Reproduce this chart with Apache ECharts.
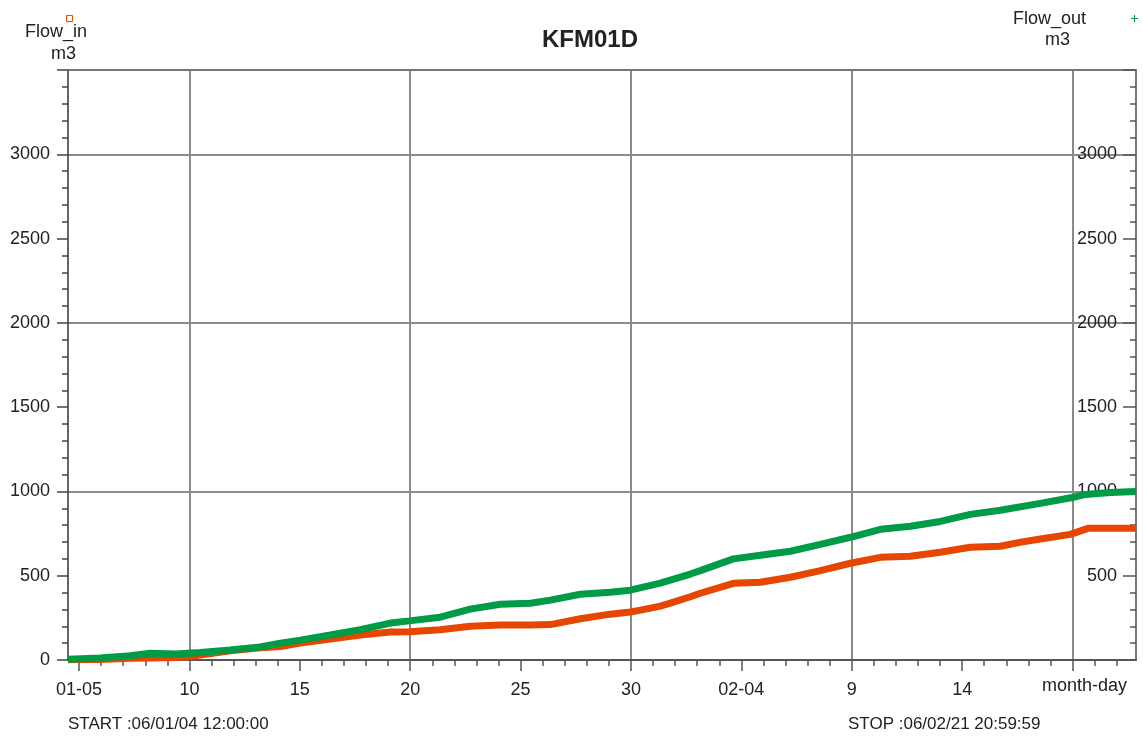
<!DOCTYPE html>
<html>
<head>
<meta charset="utf-8">
<script src="https://cdn.jsdelivr.net/npm/echarts@6/dist/echarts.min.js"></script>
<style>html,body{margin:0;padding:0;background:#fff}#c{width:1143px;height:736px}</style>
</head>
<body>
<div id="c"></div>
<script>
// x values: day of year 2006 (1.0 = 01-01 00:00)
var xMin = 3.5;        // 06/01/04 12:00:00
var xMax = 51.875;     // 06/02/21 20:59:59
var gridDays = [9, 19, 29, 39, 49];
var majorTickDays = [4, 9, 14, 19, 24, 29, 34, 39, 44, 49];
var labelDays = [4, 9, 14, 19, 24, 29, 34, 39, 44];
var labelTexts = ['01-05', '10', '15', '20', '25', '30', '02-04', '9', '14'];
var dailyTicks = [4,5,6,7,8,9,10,11,12,13,14,15,16,17,18,19,20,21,22,23,24,25,26,27,28,29,30,31,32,33,34,35,36,37,38,39,40,41,42,43,44,45,46,47,48,49,50,51];

var inDays = [3.5, 4.96, 6.32, 7.23, 8.36, 9.2, 9.49, 10.85, 12.2, 13.12, 14.02, 15.38, 16.74, 18.1, 18.96, 20.36, 21.72, 23.08, 24.44, 25.35, 26.71, 28.06, 28.97, 29.43, 30.33, 30.78, 31.69, 32.14, 33.64, 34.86, 36.22, 37.58, 38.94, 40.3, 41.66, 43.01, 44.37, 45.73, 46.6, 47.54, 48.9, 49.7, 51.875];
var flowIn = [2, 3, 10, 12, 15, 22, 30, 55, 72, 80, 100, 124, 148, 166, 168, 180, 200, 207, 207, 210, 245, 272, 285, 296, 320, 337, 375, 396, 455, 461, 491, 530, 574, 609, 615, 639, 669, 675, 698, 718, 745, 781, 781];

var outDays = [3.5, 4.96, 6.32, 7.23, 8.36, 9.49, 10.85, 12.2, 13.12, 14.02, 15.38, 16.74, 18.1, 18.96, 20.36, 21.72, 23.08, 24.44, 25.35, 26.71, 28.06, 28.97, 30.33, 31.69, 32.14, 33.64, 34.86, 36.22, 37.58, 38.94, 40.3, 41.66, 43.01, 44.37, 45.73, 47.54, 48.99, 49.58, 50.71, 51.875];
var flowOut = [5, 12, 25, 40, 35, 45, 59, 77, 100, 118, 148, 180, 219, 232, 254, 302, 331, 337, 355, 390, 402, 414, 456, 510, 530, 600, 621, 645, 686, 728, 775, 793, 822, 864, 888, 929, 964, 982, 994, 1000];

function pairs(xs, ys) { return xs.map(function (x, i) { return [x, ys[i]]; }); }

var font = 'Liberation Sans, Arial, sans-serif';
var orange = '#E64600';
var green = '#009B46';

var chart = echarts.init(document.getElementById('c'), null, {renderer: 'canvas'});
chart.setOption({
  animation: false,
  backgroundColor: '#fff',
  textStyle: {fontFamily: font},
  title: [
    {text: 'KFM01D', left: 542, top: 28, padding: 0, textStyle: {fontFamily: font, fontSize: 24, fontWeight: 'bold', color: '#222'}},
    {text: 'Flow_in', left: 25, top: 23, padding: 0, textStyle: {fontFamily: font, fontSize: 18, fontWeight: 'normal', color: '#222'}},
    {text: 'm3', left: 51, top: 45, padding: 0, textStyle: {fontFamily: font, fontSize: 18, fontWeight: 'normal', color: '#222'}},
    {text: 'Flow_out', left: 1013, top: 10, padding: 0, textStyle: {fontFamily: font, fontSize: 18, fontWeight: 'normal', color: '#222'}},
    {text: 'm3', left: 1045, top: 31, padding: 0, textStyle: {fontFamily: font, fontSize: 18, fontWeight: 'normal', color: '#222'}},
    {text: 'month-day', left: 1042, top: 677, padding: 0, textStyle: {fontFamily: font, fontSize: 18, fontWeight: 'normal', color: '#222'}},
    {text: 'START :06/01/04 12:00:00', left: 68, top: 716, padding: 0, textStyle: {fontFamily: font, fontSize: 17, fontWeight: 'normal', color: '#222'}},
    {text: 'STOP :06/02/21 20:59:59', left: 848, top: 716, padding: 0, textStyle: {fontFamily: font, fontSize: 17, fontWeight: 'normal', color: '#222'}}
  ],
  legend: [
    {data: ['Flow_in'], left: 66, top: 15, padding: 0, itemWidth: 6, itemHeight: 6, itemGap: 0,
     icon: 'rect', itemStyle: {color: '#fff', borderColor: orange, borderWidth: 1},
     formatter: function () { return ''; }, textStyle: {fontSize: 1}},
    {data: ['Flow_out'], left: 1131, top: 15, padding: 0, itemWidth: 7, itemHeight: 7, itemGap: 0,
     icon: 'path://M3,0H4V3H7V4H4V7H3V4H0V3H3Z', itemStyle: {color: green},
     formatter: function () { return ''; }, textStyle: {fontSize: 1}}
  ],
  grid: {left: 68, right: 7, top: 70, bottom: 76, containLabel: false},
  xAxis: [
    {type: 'value', min: xMin, max: xMax, position: 'bottom',
     axisLine: {show: true, lineStyle: {color: '#555', width: 2}},
     axisTick: {show: false, customValues: gridDays},
     axisLabel: {show: false},
     splitLine: {show: true, lineStyle: {color: '#8a8a8a', width: 2}}},
    {type: 'value', min: xMin, max: xMax, position: 'bottom',
     axisLine: {show: false},
     axisTick: {show: true, customValues: dailyTicks, length: 6, lineStyle: {color: '#555', width: 1.5}},
     axisLabel: {show: false}, splitLine: {show: false}},
    {type: 'value', min: xMin, max: xMax, position: 'bottom',
     axisLine: {show: false},
     axisTick: {show: true, customValues: majorTickDays, length: 11, lineStyle: {color: '#555', width: 1.5}},
     axisLabel: {show: true, customValues: labelDays, margin: 21, fontSize: 18, color: '#222', fontFamily: font,
       formatter: function (v) { var i = labelDays.indexOf(v); return i >= 0 ? labelTexts[i] : ''; }},
     splitLine: {show: false}},
    {type: 'value', min: xMin, max: xMax, position: 'top',
     axisLine: {show: true, lineStyle: {color: '#777', width: 2}},
     axisTick: {show: false}, axisLabel: {show: false}, splitLine: {show: false}}
  ],
  yAxis: [
    {type: 'value', min: 0, max: 3500, interval: 500, position: 'left',
     axisLine: {show: true, lineStyle: {color: '#333', width: 1.5}},
     axisTick: {show: true, length: 11, lineStyle: {color: '#444', width: 1.5}},
     minorTick: {show: true, splitNumber: 5, length: 6, lineStyle: {color: '#444', width: 1.5}},
     axisLabel: {margin: 18, fontSize: 18, color: '#222', fontFamily: font,
       formatter: function (v) { return v === 3500 ? '' : String(v); }},
     splitLine: {show: false}},
    {type: 'value', min: 0, max: 3500, interval: 500, position: 'right',
     axisLine: {show: true, lineStyle: {color: '#777', width: 2}},
     axisTick: {show: true, inside: true, length: 13, lineStyle: {color: '#555', width: 1.5}},
     minorTick: {show: true, splitNumber: 5, length: 6, lineStyle: {color: '#555', width: 1.5}},
     axisLabel: {inside: true, margin: 19, fontSize: 18, color: '#222', fontFamily: font,
       formatter: function (v) { return (v === 0 || v === 3500) ? '' : String(v); }},
     splitLine: {show: false}},
    {type: 'value', min: 0, max: 3500, interval: 1000, position: 'left',
     axisLine: {show: false}, axisTick: {show: false}, axisLabel: {show: false},
     splitLine: {show: true, lineStyle: {color: '#666', width: 1.5}}}
  ],
  series: [
    {name: 'Flow_in', type: 'line', xAxisIndex: 0, yAxisIndex: 0, data: pairs(inDays, flowIn),
     showSymbol: false, symbol: 'rect', lineStyle: {color: orange, width: 7}, itemStyle: {color: orange}, z: 3},
    {name: 'Flow_out', type: 'line', xAxisIndex: 0, yAxisIndex: 1, data: pairs(outDays, flowOut),
     showSymbol: false, symbol: 'path://M3,0H4V3H7V4H4V7H3V4H0V3H3Z', lineStyle: {color: green, width: 7}, itemStyle: {color: green}, z: 4}
  ]
});
</script>
</body>
</html>
